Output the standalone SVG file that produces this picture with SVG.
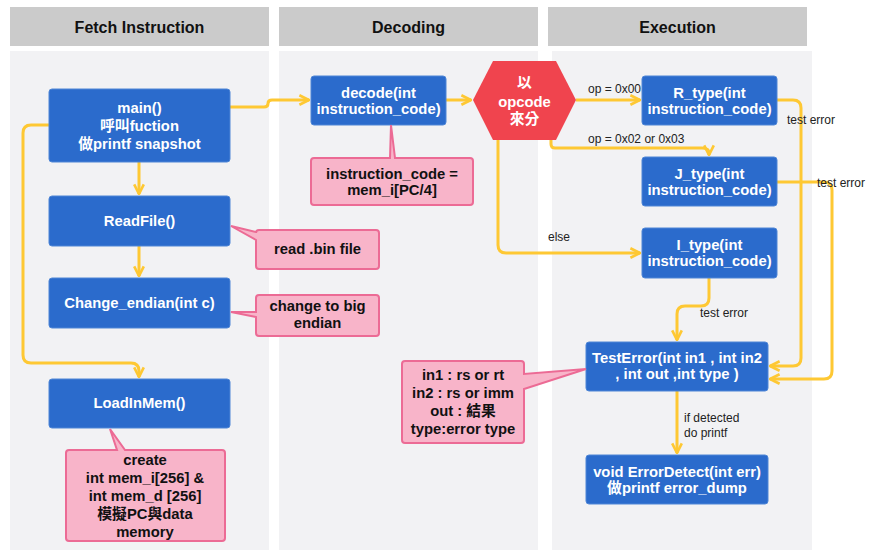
<svg xmlns="http://www.w3.org/2000/svg" width="878" height="560" viewBox="0 0 878 560">
<defs>
<style>
.hdr{fill:#cbcbcb}
.lane{fill:#f2f2f4}
.hdrt{font-family:"Liberation Sans","Noto Sans CJK TC",sans-serif;font-size:16px;font-weight:bold;fill:#111;text-anchor:middle}
.node{fill:#2b6bcc;stroke:#4f86d6;stroke-width:1}
.nt{font-family:"Liberation Sans","Noto Sans CJK TC",sans-serif;font-size:14.8px;font-weight:bold;fill:#fff;text-anchor:middle}
.note{fill:#f8b4c9;stroke:#ec6b95;stroke-width:2}
.ntt{font-family:"Liberation Sans","Noto Sans CJK TC",sans-serif;font-size:14.8px;font-weight:bold;fill:#111;text-anchor:middle}
.edge{fill:none;stroke:#fec833;stroke-width:3;stroke-linejoin:round}
.lbl{font-family:"Liberation Sans","Noto Sans CJK TC",sans-serif;font-size:12px;fill:#222}
</style>
<marker id="arr" viewBox="0 0 10 10" refX="9" refY="5" markerWidth="4" markerHeight="4" orient="auto" markerUnits="strokeWidth">
<path d="M1,1 L9,5 L1,9" fill="none" stroke="#fec833" stroke-width="2.2" stroke-linejoin="miter"/>
</marker>
</defs>

<g id="lanes">
<rect class="hdr" x="10" y="7" width="259" height="39"/>
<rect class="hdr" x="279" y="7" width="259" height="39"/>
<rect class="hdr" x="548" y="7" width="259" height="39"/>
<rect class="lane" x="10" y="51" width="259" height="499"/>
<rect class="lane" x="279" y="51" width="259" height="499"/>
<rect class="lane" x="552" y="51" width="260" height="499"/>
<text class="hdrt" x="139.5" y="33">Fetch Instruction</text>
<text class="hdrt" x="408.5" y="33">Decoding</text>
<text class="hdrt" x="677.5" y="33">Execution</text>
</g>

<g id="connectors">
<path class="edge" d="M230,107 H264 Q268,107 268,103.5 Q268,100 272,100 H309" marker-end="url(#arr)"/>
<path class="edge" d="M49,125 H31 Q23,125 23,133 V355 Q23,363 31,363 H131 Q139,363 139,371 V377" marker-end="url(#arr)"/>
<path class="edge" d="M139,162 V194" marker-end="url(#arr)"/>
<path class="edge" d="M139,246 V276" marker-end="url(#arr)"/>
<path class="edge" d="M446,100 H471" marker-end="url(#arr)"/>
<path class="edge" d="M576,100 H640" marker-end="url(#arr)"/>
<path class="edge" d="M551,140 V144 Q551,148 555,148 H702 Q709,148 709,153 V155" marker-end="url(#arr)"/>
<path class="edge" d="M498,140 V245 Q498,253 506,253 H640" marker-end="url(#arr)"/>
<path class="edge" d="M777,100 H793 Q801,100 801,108 V358 Q801,366 793,366 H770" marker-end="url(#arr)"/>
<path class="edge" d="M777,182 H824 Q832,182 832,190 V371 Q832,379 824,379 H770" marker-end="url(#arr)"/>
<path class="edge" d="M709,278 V298 Q709,306 701,306 H685 Q677,306 677,314 V340" marker-end="url(#arr)"/>
<path class="edge" d="M677,391 V453" marker-end="url(#arr)"/>
<text class="lbl" x="588" y="93">op = 0x00</text>
<text class="lbl" x="588" y="143">op = 0x02 or 0x03</text>
<text class="lbl" x="548" y="241">else</text>
<text class="lbl" x="787" y="124">test error</text>
<text class="lbl" x="817" y="187">test error</text>
<text class="lbl" x="700" y="317">test error</text>
<text class="lbl" x="684" y="422">if detected</text>
<text class="lbl" x="684" y="437">do printf</text>
</g>

<g id="main">
<rect class="node" x="49" y="89" width="181" height="73" rx="3"/>
<text class="nt" x="139.5" y="113">main()</text>
<text class="nt" x="139.5" y="131">呼叫fuction</text>
<text class="nt" x="139.5" y="149">做printf snapshot</text>
</g>
<g id="readfile">
<rect class="node" x="49" y="196" width="181" height="50" rx="3"/>
<text class="nt" x="139.5" y="226">ReadFile()</text>
</g>
<g id="changeendian">
<rect class="node" x="49" y="278" width="181" height="50" rx="3"/>
<text class="nt" x="139.5" y="308">Change_endian(int c)</text>
</g>
<g id="loadinmem">
<rect class="node" x="49" y="379" width="181" height="49" rx="3"/>
<text class="nt" x="139.5" y="408">LoadInMem()</text>
</g>
<g id="note-loadinmem">
<path class="note" d="M69,450 H117 L110,429 L125,450 H222 Q225,450 225,453 V538 Q225,541 222,541 H69 Q66,541 66,538 V453 Q66,450 69,450 Z"/>
<text class="ntt" x="145" y="465">create</text>
<text class="ntt" x="145" y="483">int mem_i[256] &amp;</text>
<text class="ntt" x="145" y="501">int mem_d [256]</text>
<text class="ntt" x="145" y="519">模擬PC與data</text>
<text class="ntt" x="145" y="537">memory</text>
</g>
<g id="note-readfile">
<path class="note" d="M259,230 H376 Q379,230 379,233 V266 Q379,269 376,269 H259 Q256,269 256,266 V240 L231,226 L256,232 V233 Q256,230 259,230 Z"/>
<text class="ntt" x="317.5" y="254">read .bin file</text>
</g>
<g id="note-endian">
<path class="note" d="M259,295 H376 Q379,295 379,298 V333 Q379,336 376,336 H259 Q256,336 256,333 V317 L231,312 L256,312 V298 Q256,295 259,295 Z"/>
<text class="ntt" x="317.5" y="311">change to big</text>
<text class="ntt" x="317.5" y="328">endian</text>
</g>
<g id="decode">
<rect class="node" x="311" y="76" width="135" height="49" rx="3"/>
<text class="nt" x="378.5" y="98">decode(int</text>
<text class="nt" x="378.5" y="114">instruction_code)</text>
</g>
<g id="note-decode">
<path class="note" d="M314,158 H390 L391,125 L395,158 H470 Q473,158 473,161 V202 Q473,205 470,205 H314 Q311,205 311,202 V161 Q311,158 314,158 Z"/>
<text class="ntt" x="392" y="179">instruction_code =</text>
<text class="ntt" x="392" y="195">mem_i[PC/4]</text>
</g>
<g id="opcode">
<polygon points="473,100 493,61 556,61 576,100 556,140 493,140" fill="#f0444e"/>
<text class="nt" x="524.5" y="88">以</text>
<text class="nt" x="524.5" y="107">opcode</text>
<text class="nt" x="524.5" y="124">來分</text>
</g>
<g id="rtype">
<rect class="node" x="642" y="76" width="135" height="49" rx="3"/>
<text class="nt" x="709.5" y="98">R_type(int</text>
<text class="nt" x="709.5" y="114">instruction_code)</text>
</g>
<g id="jtype">
<rect class="node" x="642" y="157" width="135" height="49" rx="3"/>
<text class="nt" x="709.5" y="179">J_type(int</text>
<text class="nt" x="709.5" y="195">instruction_code)</text>
</g>
<g id="itype">
<rect class="node" x="642" y="228" width="135" height="50" rx="3"/>
<text class="nt" x="709.5" y="250">I_type(int</text>
<text class="nt" x="709.5" y="266">instruction_code)</text>
</g>
<g id="testerror">
<rect class="node" x="586" y="342" width="182" height="49" rx="3"/>
<text class="nt" x="677" y="363">TestError(int in1 , int in2</text>
<text class="nt" x="677" y="379">, int out ,int type )</text>
</g>
<g id="note-testerror">
<path class="note" d="M405,361 H521 Q524,361 524,364 V374 L586,369 L524,389 V440 Q524,443 521,443 H405 Q402,443 402,440 V364 Q402,361 405,361 Z"/>
<text class="ntt" x="463" y="380">in1 : rs or rt</text>
<text class="ntt" x="463" y="398">in2 : rs or imm</text>
<text class="ntt" x="463" y="416">out : 結果</text>
<text class="ntt" x="463" y="434">type:error type</text>
</g>
<g id="errordetect">
<rect class="node" x="586" y="455" width="182" height="49" rx="3"/>
<text class="nt" x="677" y="477">void ErrorDetect(int err)</text>
<text class="nt" x="677" y="493">做printf error_dump</text>
</g>
</svg>
